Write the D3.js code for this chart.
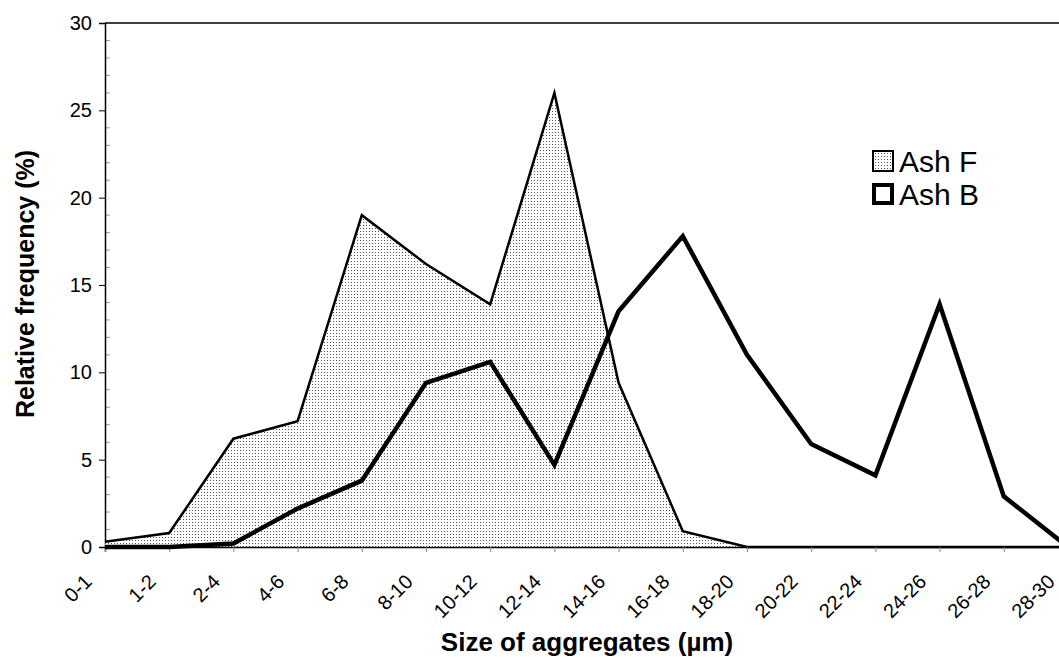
<!DOCTYPE html>
<html>
<head>
<meta charset="utf-8">
<script src="https://cdn.jsdelivr.net/npm/d3@7"></script>
<style>
body { margin: 0; background: #fff; }
text { font-family: Arial, "Liberation Sans", sans-serif; }
</style>
</head>
<body>
<script>
var categories = ["0-1", "1-2", "2-4", "4-6", "6-8", "8-10", "10-12", "12-14", "14-16",
	"16-18", "18-20", "20-22", "22-24", "24-26", "26-28", "28-30"];
var ashF = [0.3, 0.8, 6.2, 7.2, 19.0, 16.2, 13.9, 26.0, 9.4, 0.9, 0, 0, 0, 0, 0, 0];
var ashB = [0, 0, 0.2, 2.2, 3.8, 9.4, 10.6, 4.7, 13.5, 17.8, 11.0, 5.9, 4.1, 13.9, 2.9, 0];
var yTicks = [0, 5, 10, 15, 20, 25, 30];
var seriesNames = ["Ash F", "Ash B"];

var width = 1059, height = 662;
var mLeft = 105, mTop = 23, mBottom = 547, mRight = 1068;

var svg = d3.select("body").append("svg")
	.attr("width", width)
	.attr("height", height);

// dotted fill
var pat = svg.append("defs").append("pattern")
	.attr("id", "dots")
	.attr("patternUnits", "userSpaceOnUse")
	.attr("width", 3)
	.attr("height", 3);
pat.append("rect").attr("width", 3).attr("height", 3).attr("fill", "#fff");
pat.append("rect").attr("width", 1).attr("height", 1).attr("fill", "#555");

var x = d3.scalePoint().domain(categories).range([mLeft, mRight]);
var y = d3.scaleLinear().domain([0, 30]).range([mBottom, mTop]);

// frame top
svg.append("line")
	.attr("x1", mLeft).attr("x2", mRight)
	.attr("y1", mTop).attr("y2", mTop)
	.attr("stroke", "#000").attr("stroke-width", 1.5);

// minor y ticks, inside
svg.append("g").selectAll("line")
	.data(d3.range(1, 30).filter(function (d) { return d % 5 != 0; }))
	.enter().append("line")
	.attr("x1", mLeft).attr("x2", mLeft + 5)
	.attr("y1", function (d) { return y(d); })
	.attr("y2", function (d) { return y(d); })
	.attr("stroke", "#999").attr("stroke-width", 1);

// y axis
var yAxis = svg.append("g")
	.attr("transform", "translate(" + mLeft + ",0)")
	.call(d3.axisLeft(y).tickValues(yTicks).tickSize(6).tickPadding(7));
yAxis.select(".domain").attr("stroke-width", 1.5);
yAxis.selectAll("text").style("font-size", "20px").attr("fill", "#000");

// area Ash F
var area = d3.area()
	.x(function (d, i) { return x(categories[i]); })
	.y0(y(0))
	.y1(function (d) { return y(d); });
svg.append("path")
	.datum(ashF)
	.attr("d", area)
	.attr("fill", "url(#dots)");
svg.append("path")
	.datum(ashF)
	.attr("d", d3.line().x(function (d, i) { return x(categories[i]); }).y(function (d) { return y(d); }))
	.attr("fill", "none")
	.attr("stroke", "#000")
	.attr("stroke-width", 2.5);

// x axis
var xAxis = svg.append("g")
	.attr("transform", "translate(0," + mBottom + ")")
	.call(d3.axisBottom(x).tickSize(5).tickFormat(""));
xAxis.select(".domain").attr("stroke-width", 1.5);
xAxis.selectAll(".tick line").attr("stroke", "#888");

// line Ash B
svg.append("path")
	.datum(ashB)
	.attr("d", d3.line().x(function (d, i) { return x(categories[i]); }).y(function (d) { return y(d); }))
	.attr("fill", "none")
	.attr("stroke", "#000")
	.attr("stroke-width", 4.5);

// x labels
svg.append("g").selectAll("text")
	.data(categories)
	.enter().append("text")
	.attr("transform", function (d) { return "translate(" + (x(d) - 12) + "," + (mBottom + 36) + ") rotate(-45)"; })
	.attr("text-anchor", "end")
	.style("font-size", "20px")
	.text(function (d) { return d; });

// axis titles
svg.append("text")
	.attr("x", 587).attr("y", 651)
	.attr("text-anchor", "middle")
	.style("font-size", "26px").style("font-weight", "bold")
	.text("Size of aggregates (µm)");
svg.append("text")
	.attr("transform", "translate(34,284) rotate(-90)")
	.attr("text-anchor", "middle")
	.style("font-size", "25px").style("font-weight", "bold")
	.text("Relative frequency (%)");

// legend
var legend = svg.append("g").selectAll("g")
	.data(seriesNames)
	.enter().append("g")
	.attr("transform", function (d, i) { return "translate(872," + (150 + i * 33) + ")"; });
legend.append("rect")
	.attr("x", function (d, i) { return i == 0 ? 1 : 2; })
	.attr("y", function (d, i) { return i == 0 ? 1 : 2; })
	.attr("width", function (d, i) { return i == 0 ? 20 : 18; })
	.attr("height", function (d, i) { return i == 0 ? 20 : 18; })
	.attr("fill", function (d, i) { return i == 0 ? "url(#dots)" : "#fff"; })
	.attr("stroke", "#000")
	.attr("stroke-width", function (d, i) { return i == 0 ? 2 : 4; });
legend.append("text")
	.attr("x", 27).attr("y", 22)
	.style("font-size", "30px")
	.text(function (d) { return d; });
</script>
</body>
</html>
